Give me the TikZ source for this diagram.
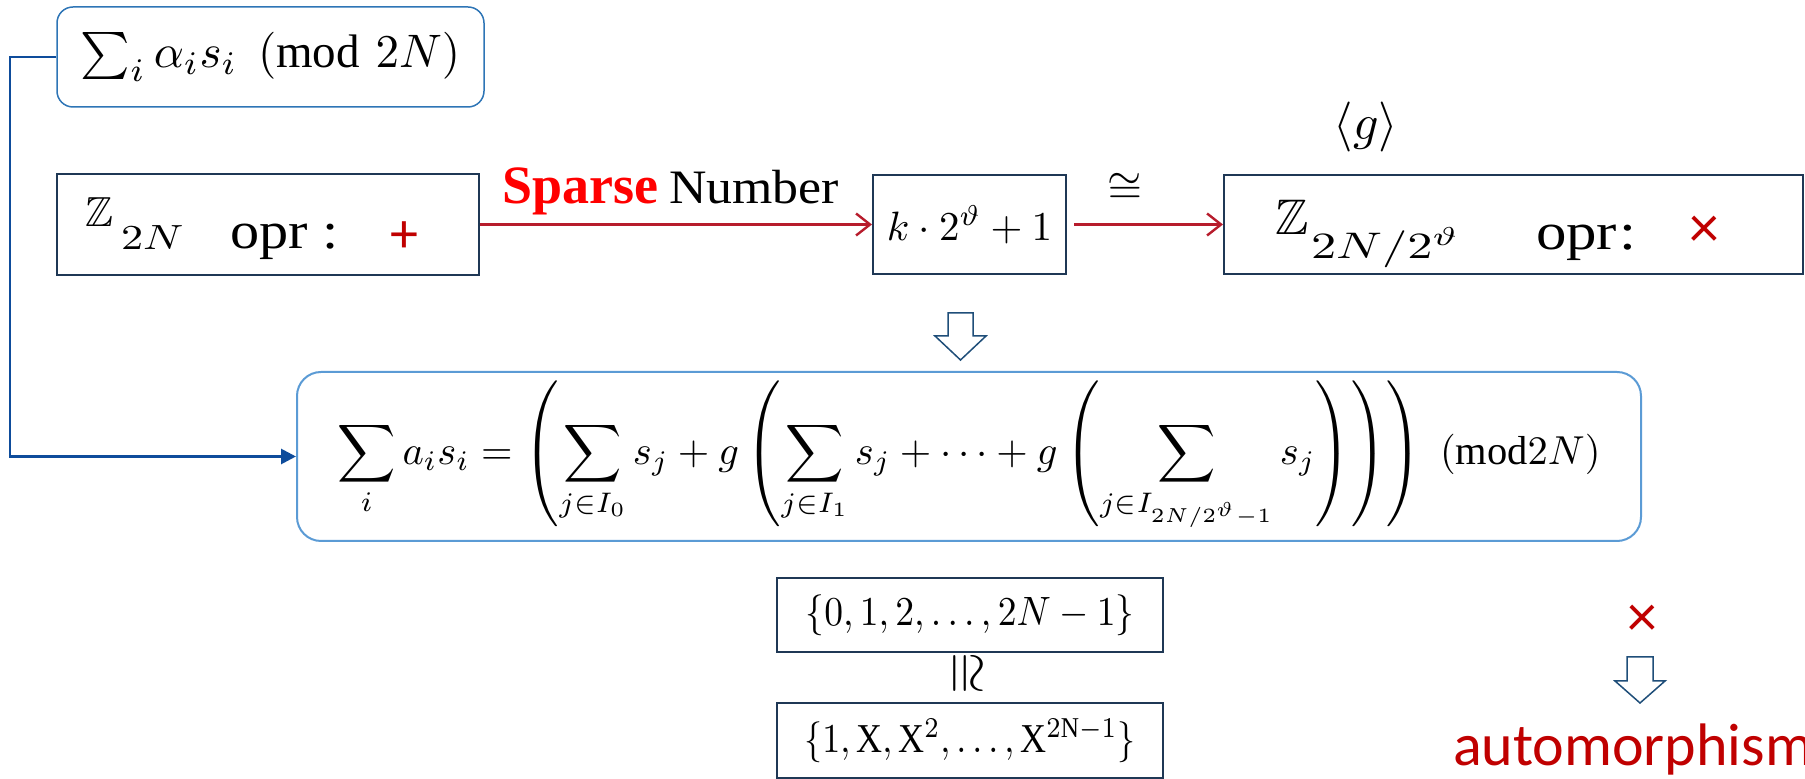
\documentclass[tikz,border=0pt]{standalone}
\usepackage{amsmath,amssymb}
\usepackage{fontspec}
\setmainfont{Liberation Serif}
\newfontfamily\carl{Carlito}
\usepackage{graphicx}
\usetikzlibrary{arrows.meta}
\definecolor{arrred}{RGB}{183,28,44}
\definecolor{pr}{RGB}{192,0,0}
\definecolor{boxc}{RGB}{31,56,85}
\definecolor{bluec}{RGB}{14,76,155}
\definecolor{rbc}{RGB}{46,117,182}
\definecolor{bigc}{RGB}{91,155,213}
\definecolor{hollc}{RGB}{31,78,121}
\begin{document}
\begin{tikzpicture}[x=0.5pt,y=-0.5pt,
  sqbox/.style={draw=boxc, line width=1pt, rectangle, inner sep=0pt},
  rbox/.style={draw=rbc, line width=0.75pt, rounded corners=8pt, inner sep=0pt},
  redarr/.style={draw=arrred, line width=1.2pt, -{Straight Barb[length=7pt,width=11pt]}},
  bluearr/.style={draw=bluec, line width=1.4pt, -{Triangle[length=7.5pt,width=7.5pt]}},
  hollow/.style={draw=hollc, line width=0.75pt, fill=white, line join=miter},
  txt/.style={inner sep=0pt, outer sep=0pt}]
\useasboundingbox (0,0) rectangle (1805,779);

% top-left formula box
\node[rbox, minimum width=213.5pt, minimum height=50pt] (b1) at (270.5,57)
  {\scalebox{2.35}{$\sum_i \alpha_i s_i \pmod{2N}$}};

% Z_2N box
\node[sqbox, minimum width=211pt, minimum height=50.5pt] (bz) at (268,224.5) {};
\node[txt, anchor=base west] (z1) at (85,227) {\scalebox{2.1}{$\mathbb{Z}$}};
\node[txt, anchor=base west] (z1s) at (121,250) {\scalebox{2.21}[1.75]{$2N$}};
\node[txt, anchor=base west] (opr1) at (230,249) {\scalebox{1.12}[1]{\fontsize{26}{30}\selectfont opr :}};
\node[txt, text=pr] (plus) at (404.5,237) {\carl\fontsize{28}{32}\selectfont +};

% k 2^theta + 1 box
\node[sqbox, minimum width=96.5pt, minimum height=49.5pt] (bk) at (969.5,224.5)
  {\scalebox{2.05}{$k\cdot2^{\vartheta}+1$}};

% Z_{2N/2^theta} box
\node[sqbox, minimum width=289.5pt, minimum height=49.5pt] (bzq) at (1513.5,224.5) {};
\node[txt, anchor=base west] (z2) at (1275,235) {\scalebox{2.5}{$\mathbb{Z}$}};
\node[txt, anchor=base west] (z2s) at (1311,259) {\scalebox{2.52}[1.85]{$2N/2^{\vartheta}$}};
\node[txt, anchor=base west] (opr2) at (1536,250) {\scalebox{1.17}[1]{\fontsize{26}{30}\selectfont opr\kern1pt:}};
\node[txt, text=pr] (times1) at (1704,232) {\carl\fontsize{30}{34}\selectfont ×};

% arrows and labels
\draw[redarr] (bz.east) -- (bk.west);
\draw[redarr, shorten <=3.5pt] (bk.east) -- (bzq.west);
\node[txt, anchor=base west, text=red] (sp) at (502,204) {\fontsize{27}{30}\selectfont\bfseries Sparse};
\node[txt, anchor=base west] (num) at (669,204) {\scalebox{1.08}[1]{\fontsize{24}{28}\selectfont Number}};
\node[txt] (cong1) at (1125,188) {\scalebox{2.2}{$\cong$}};
\node[txt] (gen) at (1366,127) {\scalebox{2.5}{$\langle g\rangle$}};

% hollow down arrows
\draw[hollow] (948,313) -- (973,313) -- (973,336) -- (986,336) -- (960.5,360) -- (935,336) -- (948,336) -- cycle;
\draw[hollow] (1627,657) -- (1653,657) -- (1653,681) -- (1665,681) -- (1640,703) -- (1615,681) -- (1627,681) -- cycle;

% big formula box
\node[rbox, rounded corners=12pt, draw=bigc, line width=1pt, minimum width=672pt, minimum height=84.5pt] (big) at (969,456.5)
  {\resizebox{631.5pt}{!}{$\displaystyle \sum_i a_i s_i = \left(\sum_{j\in I_0} s_j + g\left(\sum_{j\in I_1} s_j + \cdots + g\left(\sum_{j\in I_{2N/2^{\vartheta}-1}} s_j\right)\right)\right)\;(\mathrm{mod}2N)$}};

% connector
\coordinate (c1) at (10,57);
\draw[bluearr] (b1.west) -- (c1) |- (big.west);

% sets
\node[sqbox, minimum width=193pt, minimum height=37pt] (s1) at (970,615)
  {\scalebox{1.88}[2.05]{$\{0,1,2,\ldots,2N-1\}$}};
\node[txt, rotate=-90] (cong2) at (965,674) {\scalebox{2.7}{$\cong$}};
\node[sqbox, minimum width=193pt, minimum height=37.5pt] (s2) at (970,740.5)
  {\scalebox{1.8}[2.05]{$\{1,\mathrm{X},\mathrm{X}^{2},\ldots,\mathrm{X}^{2\mathrm{N}-1}\}$}};

% automorphism
\node[txt, text=pr] (times2) at (1642,621) {\carl\fontsize{30}{34}\selectfont ×};
\node[txt, anchor=base west, text=pr] (auto) at (1453,766) {\carl\fontsize{30}{36}\selectfont automorphism};
\end{tikzpicture}
\end{document}
